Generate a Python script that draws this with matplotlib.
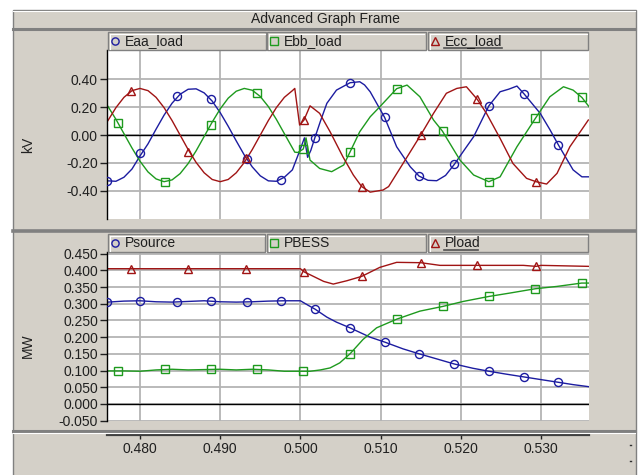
import matplotlib
matplotlib.use('Agg')
import matplotlib.pyplot as plt
from matplotlib.patches import Rectangle
from matplotlib.lines import Line2D
from matplotlib.ticker import FixedLocator, FormatStrFormatter

# ---------------- data ----------------
x_ticks = [0.480, 0.490, 0.500, 0.510, 0.520, 0.530]
kv_ticks = [-0.40, -0.20, 0.00, 0.20, 0.40]
mw_ticks = [-0.050, 0.000, 0.050, 0.100, 0.150, 0.200, 0.250, 0.300, 0.350, 0.400, 0.450]

eaa_t = [0.476, 0.477, 0.478, 0.479, 0.480, 0.481, 0.482, 0.483, 0.484, 0.485, 0.486, 0.487,
         0.488, 0.489, 0.490, 0.491, 0.492, 0.493, 0.494, 0.495, 0.496, 0.497, 0.498, 0.499,
         0.4996, 0.5000, 0.5005, 0.5009, 0.5013, 0.5018, 0.5025, 0.5033, 0.5045, 0.5062, 0.5074,
         0.5080, 0.5087, 0.5105, 0.5120, 0.5137, 0.5148, 0.5159, 0.5170, 0.5181, 0.5192, 0.5204,
         0.5216, 0.5235, 0.5249, 0.5260, 0.5270, 0.5279, 0.5299, 0.5311, 0.5322, 0.5340, 0.5351, 0.5360]
eaa_v = [-0.329, -0.332, -0.303, -0.244, -0.150, -0.063, 0.042, 0.143, 0.229, 0.293, 0.329, 0.332,
         0.303, 0.244, 0.161, 0.063, -0.042, -0.143, -0.229, -0.293, -0.329, -0.332, -0.303, -0.250,
         -0.160, -0.100, -0.020, -0.160, -0.110, -0.020, 0.100, 0.228, 0.323, 0.376, 0.383,
         0.360, 0.311, 0.127, -0.084, -0.228, -0.295, -0.325, -0.328, -0.290, -0.210, -0.110,
         -0.012, 0.210, 0.311, 0.330, 0.352, 0.295, 0.156, 0.040, -0.074, -0.250, -0.300, -0.300]
eaa_mt = [0.47592, 0.48000, 0.48458, 0.48889, 0.49330, 0.49758, 0.50182, 0.50618, 0.51055,
          0.51483, 0.51915, 0.52352, 0.52788, 0.53216]
eaa_mv = [-0.330, -0.130, 0.280, 0.256, -0.170, -0.320, -0.020, 0.376, 0.127,
          -0.295, -0.210, 0.210, 0.295, -0.074]

ebb_t = [0.476, 0.477, 0.478, 0.479, 0.480, 0.481, 0.482, 0.483, 0.484, 0.485, 0.486, 0.487,
         0.488, 0.489, 0.490, 0.491, 0.492, 0.493, 0.494, 0.495, 0.496, 0.497, 0.498, 0.4993,
         0.4997, 0.50036, 0.5007, 0.5012, 0.5024, 0.5039, 0.5054, 0.5062, 0.5074, 0.5087, 0.5099,
         0.5120, 0.5133, 0.5149, 0.5166, 0.5177, 0.5199, 0.5216, 0.5235, 0.5249, 0.5270, 0.5293,
         0.5311, 0.5328, 0.5340, 0.5351, 0.5360]
ebb_v = [0.206, 0.113, 0.010, -0.093, -0.188, -0.265, -0.315, -0.335, -0.322, -0.277, -0.205, -0.113,
         -0.010, 0.093, 0.188, 0.265, 0.315, 0.335, 0.322, 0.277, 0.205, 0.113, 0.010, -0.123,
         -0.125, -0.100, -0.020, -0.180, -0.240, -0.263, -0.215, -0.120, 0.024, 0.131, 0.203,
         0.333, 0.359, 0.275, 0.108, 0.029, -0.180, -0.287, -0.335, -0.300, -0.084, 0.120,
         0.275, 0.347, 0.323, 0.270, 0.203]
ebb_mt = [0.47729, 0.48308, 0.48885, 0.49463, 0.50036, 0.50618, 0.51201, 0.51774, 0.52352,
          0.52929, 0.53507]
ebb_mv = [0.088, -0.335, 0.072, 0.300, -0.100, -0.120, 0.333, 0.029, -0.335, 0.120, 0.270]

ecc_t = [0.476, 0.477, 0.478, 0.479, 0.480, 0.481, 0.482, 0.483, 0.484, 0.485, 0.486, 0.487,
         0.488, 0.489, 0.490, 0.491, 0.492, 0.493, 0.494, 0.495, 0.496, 0.497, 0.498, 0.499,
         0.4993, 0.4999, 0.50045, 0.5012, 0.5024, 0.5037, 0.5053, 0.5066, 0.50764, 0.5087, 0.5103,
         0.5110, 0.5128, 0.5150, 0.5166, 0.5182, 0.5195, 0.5207, 0.52206, 0.5232, 0.5249, 0.5265,
         0.5282, 0.52938, 0.5307, 0.5320, 0.5336, 0.5349, 0.5359]
ecc_v = [0.104, 0.197, 0.271, 0.319, 0.335, 0.319, 0.271, 0.197, 0.104, 0.000, -0.104, -0.197,
         -0.271, -0.319, -0.335, -0.319, -0.271, -0.197, -0.104, 0.000, 0.104, 0.197, 0.271, 0.319,
         0.335, 0.072, 0.108, 0.210, 0.156, 0.024, -0.156, -0.287, -0.370, -0.410, -0.395,
         -0.370, -0.204, 0.000, 0.156, 0.300, 0.335, 0.347, 0.256, 0.156, -0.024, -0.204,
         -0.311, -0.335, -0.352, -0.275, -0.084, 0.024, 0.108]
ecc_mt = [0.47884, 0.48602, 0.49322, 0.50045, 0.50764, 0.51500, 0.52206, 0.52938]
ecc_mv = [0.318, -0.120, -0.167, 0.108, -0.370, 0.000, 0.256, -0.335]

psrc_t = [0.476, 0.478, 0.480, 0.482, 0.484, 0.486, 0.488, 0.490, 0.492, 0.494, 0.496, 0.498,
          0.5000, 0.5010, 0.50182, 0.5033, 0.5045, 0.50618, 0.5087, 0.51055, 0.5128, 0.51483,
          0.5170, 0.51915, 0.5215, 0.52352, 0.5255, 0.52788, 0.5300, 0.53216, 0.5340, 0.5359]
psrc_v = [0.305, 0.308, 0.309, 0.306, 0.305, 0.307, 0.309, 0.306, 0.305, 0.306, 0.308, 0.309,
          0.309, 0.295, 0.284, 0.260, 0.245, 0.228, 0.200, 0.185, 0.165, 0.150,
          0.135, 0.120, 0.107, 0.098, 0.090, 0.081, 0.073, 0.065, 0.058, 0.052]
psrc_mv = [0.305, 0.309, 0.305, 0.309, 0.305, 0.309, 0.284, 0.228, 0.185, 0.150, 0.120, 0.098,
           0.081, 0.065]

pbess_t = [0.476, 0.478, 0.480, 0.482, 0.484, 0.486, 0.488, 0.490, 0.492, 0.494, 0.496, 0.498,
           0.500, 0.5012, 0.5025, 0.5037, 0.5049, 0.50618, 0.5078, 0.5095, 0.51201, 0.5149,
           0.51774, 0.5203, 0.52352, 0.5261, 0.52929, 0.5320, 0.53507, 0.5360]
pbess_v = [0.099, 0.099, 0.098, 0.102, 0.104, 0.102, 0.103, 0.104, 0.102, 0.104, 0.102, 0.098,
           0.098, 0.098, 0.102, 0.108, 0.123, 0.150, 0.193, 0.228, 0.254, 0.278,
           0.292, 0.307, 0.322, 0.332, 0.345, 0.352, 0.362, 0.362]
pbess_mv = [0.0998, 0.104, 0.104, 0.104, 0.0998, 0.150, 0.254, 0.292, 0.322, 0.345, 0.362]

pload_t = [0.476, 0.5000, 0.5005, 0.5012, 0.5029, 0.5041, 0.5058, 0.50764, 0.5099, 0.5120,
           0.5150, 0.5174, 0.5278, 0.52938, 0.5300, 0.5360]
pload_v = [0.405, 0.405, 0.395, 0.387, 0.367, 0.359, 0.369, 0.382, 0.409, 0.424,
           0.423, 0.415, 0.415, 0.412, 0.415, 0.412]
pload_mv = [0.405, 0.405, 0.405, 0.395, 0.382, 0.422, 0.415, 0.412]

top_names = ['Eaa_load', 'Ebb_load', 'Ecc_load']
bot_names = ['Psource', 'PBESS', 'Pload']

# ---------------- styling ----------------
plt.rcParams['font.family'] = ['Liberation Sans', 'DejaVu Sans']
GRAY = '#d4d0c8'
DARK = '#808080'
BLUE = '#1c1ca0'
GREEN = '#1e9a1e'
RED = '#a01414'
GRID = '#b4b4b4'
FS = 10

W, H = 641, 475
fig = plt.figure(figsize=(6.41, 4.75), dpi=100)
fig.patch.set_facecolor('white')


def fx(x):
    return x / W


def fy(y):
    return 1 - y / H


def rect(x0, y0, x1, y1, fc, ec='none', lw=0, z=0):
    fig.add_artist(Rectangle((fx(x0), fy(y1)), fx(x1) - fx(x0), fy(y0) - fy(y1),
                             transform=fig.transFigure, facecolor=fc, edgecolor=ec,
                             lw=lw, zorder=z))


def line(xs, ys, color, lw, z=1):
    fig.add_artist(Line2D([fx(v) for v in xs], [fy(v) for v in ys],
                          transform=fig.transFigure, color=color, lw=lw, zorder=z))


# outer frame
rect(12.5, 9.5, 635.5, 476, GRAY, DARK, 1.0, z=0)
# title bar
line([13, 635], [10.5, 10.5], 'white', 0.8)
fig.text(fx(325), fy(19.5), 'Advanced Graph Frame', ha='center', va='center', fontsize=FS,
         color='#202020')
# separators
line([13, 635], [28.5, 28.5], DARK, 2.2)
line([13, 635], [230.5, 230.5], DARK, 2.6)
line([13, 635], [431, 431], DARK, 2.2)
line([13, 635], [433, 433], 'white', 0.8)

xlim = (0.475885, 0.535948)

# ---------------- top panel ----------------
ax1 = fig.add_axes([fx(107), fy(219), fx(588.7) - fx(107), fy(50) - fy(219)])
ax2 = fig.add_axes([fx(107), fy(420.7), fx(588.7) - fx(107), fy(252) - fy(420.7)])

for ax in (ax1, ax2):
    ax.set_facecolor('white')
    ax.set_xlim(*xlim)
    ax.xaxis.set_major_locator(FixedLocator(x_ticks))
    ax.tick_params(axis='x', length=0, labelbottom=False)
    ax.tick_params(axis='y', length=5, width=1, pad=1.5, labelsize=FS, colors='#202020')
    for s in ('top', 'right', 'bottom'):
        ax.spines[s].set_visible(False)
    ax.spines['left'].set_color('black')
    ax.spines['left'].set_linewidth(1.0)
    ax.grid(True, color=GRID, lw=1.3)
    ax.set_axisbelow(True)
    ax.axhline(0, color='black', lw=1.0, zorder=1.5)

ax1.set_ylim(-0.603, 0.611)
ax1.yaxis.set_major_locator(FixedLocator(kv_ticks))
ax1.yaxis.set_major_formatter(FormatStrFormatter('%.2f'))

ax2.set_ylim(-0.050, 0.455)
ax2.yaxis.set_major_locator(FixedLocator(mw_ticks))
ax2.yaxis.set_major_formatter(FormatStrFormatter('%.3f'))

mk = dict(ls='none', mfc='none', ms=5.8, mew=1.0, zorder=3)
ax1.plot(eaa_t, eaa_v, color=BLUE, lw=1.0, zorder=2)
ax1.plot(ebb_t, ebb_v, color=GREEN, lw=1.0, zorder=2)
ax1.plot(ecc_t, ecc_v, color=RED, lw=1.0, zorder=2)
ax1.plot(eaa_mt, eaa_mv, marker='o', mec=BLUE, **mk)
ax1.plot(ebb_mt, ebb_mv, marker='s', mec=GREEN, **mk)
ax1.plot(ecc_mt, ecc_mv, marker='^', mec=RED, **mk)

ax2.plot(psrc_t, psrc_v, color=BLUE, lw=1.0, zorder=2)
ax2.plot(pbess_t, pbess_v, color=GREEN, lw=1.0, zorder=2)
ax2.plot(pload_t, pload_v, color=RED, lw=1.0, zorder=2)
ax2.plot(eaa_mt, psrc_mv, marker='o', mec=BLUE, **mk)
ax2.plot(ebb_mt, pbess_mv, marker='s', mec=GREEN, **mk)
ax2.plot(ecc_mt, pload_mv, marker='^', mec=RED, **mk)

fig.text(fx(28), fy(145), 'kV', rotation=90, ha='center', va='center', fontsize=FS,
         color='#202020')
fig.text(fx(28), fy(346), 'MW', rotation=90, ha='center', va='center', fontsize=FS,
         color='#202020')

# ---------------- x axis panel ----------------
ax3 = fig.add_axes([fx(107), fy(434.5), fx(588.7) - fx(107), 0.0001])
ax3.set_xlim(*xlim)
ax3.set_ylim(0, 1)
ax3.patch.set_visible(False)
for s in ('top', 'right', 'left'):
    ax3.spines[s].set_visible(False)
ax3.spines['bottom'].set_color('#404040')
ax3.spines['bottom'].set_linewidth(1.6)
ax3.set_yticks([])
ax3.xaxis.set_major_locator(FixedLocator(x_ticks))
ax3.xaxis.set_major_formatter(FormatStrFormatter('%.3f'))
ax3.tick_params(axis='x', length=3, width=1, pad=2.5, labelsize=FS, colors='#202020')

# small dots on the right edge
line([629.5, 630.5], [445, 445], '#303030', 1.0)
line([629.5, 630.5], [461, 461], '#303030', 1.0)

# ---------------- legend boxes ----------------
colors = [BLUE, GREEN, RED]
markers = ['o', 's', '^']


def legend_row(y0, y1, boxes, names, underline_w):
    for i, ((x0, x1), name) in enumerate(zip(boxes, names)):
        rect(x0, y0, x1, y1, GRAY, DARK, 1.0, z=2)
        line([x0 + 1.5, x1 - 1.5], [y0 + 1.5, y0 + 1.5], 'white', 0.8, z=3)
        line([x0 + 1.5, x0 + 1.5], [y0 + 1.5, y1 - 1.5], 'white', 0.8, z=3)
        yc = (y0 + y1) / 2
        fig.add_artist(Line2D([fx(x0 + 7)], [fy(yc)], transform=fig.transFigure,
                              marker=markers[i], ms=5.2, mfc='none', mec=colors[i],
                              mew=1.0, ls='none', zorder=4))
        fig.text(fx(x0 + 17), fy(yc), name, ha='left', va='center', fontsize=FS,
                 color='#202020', zorder=4)
        if i == 2:
            line([x0 + 16, x0 + 16 + underline_w], [y1 - 2.5, y1 - 2.5], '#505050', 1.2, z=4)


legend_row(32, 50, [(108, 266), (267, 426), (428, 588)], top_names, 58)
legend_row(234, 252, [(108, 265), (267, 426), (428, 588)], bot_names, 34)

fig.savefig('out.png', dpi=100, facecolor=fig.get_facecolor())
